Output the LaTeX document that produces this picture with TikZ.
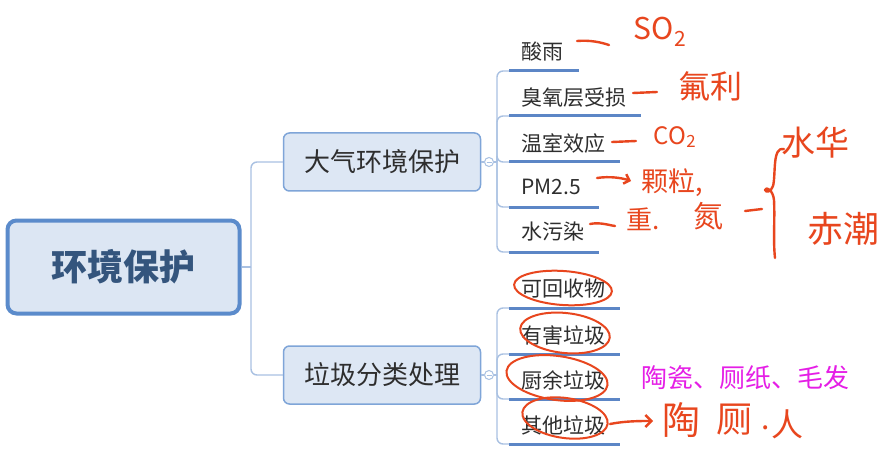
\documentclass[tikz,border=0pt]{standalone}
\usepackage{fontspec}
\setmainfont{Noto Sans CJK SC}
\usetikzlibrary{arrows.meta}
\definecolor{rootfill}{HTML}{DCE6F3}
\definecolor{rootdraw}{HTML}{5B8BCB}
\definecolor{roottext}{HTML}{34557D}
\definecolor{brfill}{HTML}{DDE7F4}
\definecolor{brdraw}{HTML}{7FA5D8}
\definecolor{connc}{HTML}{A9C1E2}
\definecolor{ulc}{HTML}{5C86C6}
\definecolor{txt}{HTML}{2E2E2E}
\definecolor{ink}{HTML}{E8461E}
\definecolor{mag}{HTML}{E51EE6}
\tikzset{
  rootbox/.style={draw=rootdraw,line width=4pt,fill=rootfill,rounded corners=9pt,minimum width=232pt,minimum height=93pt,text=roottext,font=\fontsize{36}{36}\selectfont\bfseries},
  brbox/.style={draw=brdraw,line width=1.5pt,fill=brfill,rounded corners=6pt,minimum width=197pt,minimum height=58pt,text=txt,font=\fontsize{26}{26}\selectfont},
  conn/.style={draw=connc,line width=1.4pt,rounded corners=6pt},
  uline/.style={draw=ulc,line width=3pt},
  leaf/.style={anchor=west,inner sep=0pt,text=txt,font=\fontsize{21}{21}\selectfont},
  collapse/.style={circle,draw=connc,fill=white,line width=1pt,minimum size=9pt,inner sep=0pt},
  inktext/.style={text=ink,inner sep=0pt},
  inkline/.style={draw=ink,line width=2.4pt,line cap=round,line join=round},
  inkring/.style={draw=ink,line width=2pt},
}
\begin{document}
\begin{tikzpicture}[x=1pt,y=-1pt]
\useasboundingbox (0,0) rectangle (880,465);
\fill[white] (0,0) rectangle (880,465);

% main nodes
\node[rootbox] (root) at (123.5,267) {环境保护};
\node[brbox] (b1) at (382,162) {大气环境保护};
\node[brbox] (b2) at (382,375) {垃圾分类处理};
\coordinate (j1) at (251,267);
\draw[conn] (root.east) -- (j1);
\draw[conn] (j1) |- (b1.west);
\draw[conn] (j1) |- (b2.west);

% collapse markers
\node[collapse] (c1) at (489,162) {};
\node[collapse] (c2) at (489,375) {};
\draw[draw=connc,line width=0.8pt] ([xshift=-2.5pt]c1.center) -- ([xshift=2.5pt]c1.center);
\draw[draw=connc,line width=0.8pt] ([xshift=-2.5pt]c2.center) -- ([xshift=2.5pt]c2.center);
\draw[conn] (b1.east) -- (c1.west);
\draw[conn] (b2.east) -- (c2.west);
\coordinate (v1) at (497,162);
\coordinate (v2) at (497,375);
\draw[conn] (c1.east) -- (v1);
\draw[conn] (c2.east) -- (v2);

% leaves of branch 1
\foreach \n/\t/\y/\ty/\xe in {a/酸雨/71/52/579, b/臭氧层受损/116/98/641, c/温室效应/162/143/620, d/PM2.5/207/187/599, e/水污染/252/232/599}{
  \node[leaf] (l\n) at (521,\ty) {\t};
  \coordinate (s\n) at (509,\y);
  \coordinate (e\n) at (\xe,\y);
  \draw[conn] (v1) |- (s\n);
  \draw[uline] (s\n) -- (e\n);
}
% leaves of branch 2
\foreach \n/\t/\y/\ty in {f/可回收物/308/289, g/有害垃圾/354/335, h/厨余垃圾/399/380, i/其他垃圾/444/425}{
  \node[leaf] (l\n) at (521,\ty) {\t};
  \coordinate (s\n) at (509,\y);
  \coordinate (e\n) at (620,\y);
  \draw[conn] (v2) |- (s\n);
  \draw[uline] (s\n) -- (e\n);
}

% magenta note
\node[text=mag,inner sep=0pt,font=\fontsize{26}{26}\selectfont] (note) at (745,378) {陶瓷、厕纸、毛发};

% red handwriting
\draw[inkline] (577,41) .. controls (590,40) and (600,42) .. (609,45);
\node[inktext,font=\fontsize{30}{30}\selectfont] (h1) at (660,32) {SO\textsubscript{2}};
\draw[inkline] (633,93) -- (657,92);
\node[inktext,font=\fontsize{32}{32}\selectfont] (h2) at (710,86) {氟利};
\draw[inkline] (612,142) -- (636,141);
\node[inktext,font=\fontsize{24}{24}\selectfont] (h3) at (675,137) {CO\textsubscript{2}};
\draw[inkline,-{Straight Barb[length=5pt]}] (597,178) .. controls (610,176) and (622,178) .. (631,181);
\node[inktext,font=\fontsize{27}{27}\selectfont] (h4) at (672,183) {颗粒,};
\draw[inkline] (590,224) .. controls (600,222) and (608,225) .. (615,226);
\node[inktext,font=\fontsize{26}{26}\selectfont] (h5) at (643,219) {重.};
\node[inktext,font=\fontsize{30}{30}\selectfont] (h6) at (708,216) {氮};
\draw[inkline] (745,211) -- (762,209);
\draw[inkline] (784,149) .. controls (772,146) and (776,175) .. (773,186) .. controls (771,192) and (766,193) .. (765,190) .. controls (766,186) and (773,190) .. (774,200) .. controls (775,220) and (773,240) .. (775,258);
\node[inktext,font=\fontsize{34}{34}\selectfont] (h7) at (815,143) {水华};
\node[inktext,font=\fontsize{36}{36}\selectfont] (h8) at (843,229) {赤潮};
\draw[inkline,-{Straight Barb[length=6pt]}] (610,424) .. controls (625,421) and (640,421) .. (653,421);
\node[inktext,font=\fontsize{38}{38}\selectfont] (h9) at (681,420) {陶};
\node[inktext,font=\fontsize{36}{36}\selectfont] (h10) at (734,420) {厕};
\node[inktext,font=\fontsize{30}{30}\selectfont] (h11) at (766,428) {.};
\node[inktext,font=\fontsize{32}{32}\selectfont] (h12) at (787,424) {人};

% red rings round the waste classes
\draw[inkring,rotate around={-4:(563,288)}] (563,288) ellipse [x radius=49pt,y radius=17pt];
\draw[inkring,rotate around={-6:(565,333)}] (565,333) ellipse [x radius=45pt,y radius=20pt];
\draw[inkring,rotate around={-8:(557,378)}] (557,378) ellipse [x radius=51pt,y radius=22pt];
\draw[inkring,rotate around={-8:(565,418)}] (565,418) ellipse [x radius=43pt,y radius=20pt];
\end{tikzpicture}
\end{document}
